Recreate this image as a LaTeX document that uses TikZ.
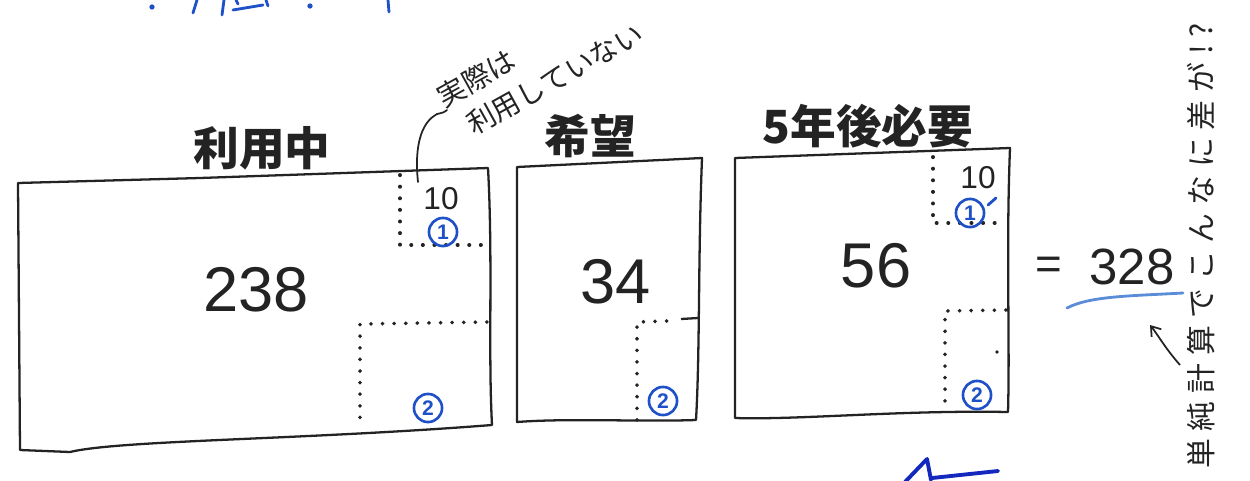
\documentclass[tikz,border=0pt]{standalone}
\usepackage{fontspec}
\setmainfont{Liberation Sans}
\newfontfamily\cjk{Noto Sans CJK JP}
\usetikzlibrary{arrows.meta}
\definecolor{pen}{RGB}{35,35,35}
\definecolor{bpen}{RGB}{30,80,200}
\definecolor{ulblue}{RGB}{90,140,215}
\definecolor{dblue}{RGB}{20,40,190}
\begin{document}
\begin{tikzpicture}[x=0.02cm,y=-0.02cm,
 edge/.style={draw=pen,line width=1.3pt,line join=round,line cap=round},
 dotline/.style={draw=pen,line width=2.2pt,line cap=round,dash pattern=on 0.1pt off 6.5pt},
 title/.style={font=\cjk\bfseries\fontsize{26}{28}\selectfont,text=pen,inner sep=0pt},
 big/.style={font=\fontsize{36}{40}\selectfont,text=pen,inner sep=0pt},
 small/.style={font=\fontsize{18}{20}\selectfont,text=pen,inner sep=0pt},
 circ/.style={circle,draw=bpen,line width=1.5pt,text=bpen,inner sep=0pt,minimum size=16pt,font=\bfseries\fontsize{12}{12}\selectfont},
 ann/.style={font=\cjk\fontsize{16}{22}\selectfont,text=pen,inner sep=0pt},
 bstroke/.style={draw=bpen,line width=1.6pt,line cap=round},
]
\useasboundingbox (0,0) rectangle (1250,480);

% partial blue heading cut off at top
\fill[bpen] (152,7) circle (1.5pt);
\draw[bstroke] (197,0) -- (193,13);
\draw[bstroke] (224,0) -- (222,15);
\draw[bstroke] (233,10) -- (263,5);
\draw[bstroke] (236,0) -- (238,4);
\draw[bstroke] (266,0) -- (268,6);
\fill[bpen] (310,6) circle (1.5pt);
\draw[bstroke] (388,0) -- (389,12);

% box 1 : 利用中
\draw[edge] (18,183) -- (200,178) -- (488,168) .. controls (493,260) and (488,350) .. (492,425)
  .. controls (300,440) and (120,440) .. (70,452) -- (20,450) -- cycle;
\node[title] (t1) at (262,148) {利用中};
\draw[dotline] (400,175) -- (400,245) -- (487,245);
\draw[dotline] (487,322) -- (360,324) -- (360,428);
\node[big] (n238) at (256,290) {238};
\node[small] (a10) at (441,199) {10};
\node[circ] (c1a) at (443,232) {1};
\node[circ] (c2a) at (428,408) {2};

% annotation
\node[ann,rotate=29,align=left,anchor=base west] (ann) at (463,142) {実際は\\\hspace*{0.45em}利用していない};
\coordinate (lead0) at (418,182);
\coordinate (lead1) at (434,116);
\coordinate (lead2) at (447,110);
\draw[draw=pen,line width=1pt,line cap=round] (lead0) .. controls (414,145) and (422,124) .. (lead1) .. controls (438,112) and (441,115) .. (lead2);

% box 2 : 希望
\draw[edge] (517,167) -- (702,158) .. controls (698,260) and (700,350) .. (696,420)
  .. controls (640,422) and (570,418) .. (517,422) -- cycle;
\node[title] (t2) at (590,136) {希望};
\draw[dotline] (637,420) -- (637,322) -- (668,321);
\draw[draw=pen,line width=1.3pt] (681,319) -- (698,318);
\node[big] (n34) at (616,282) {34};
\node[circ] (c2b) at (663,401) {2};

% box 3 : 5年後必要
\draw[edge] (735,158) -- (1010,148) .. controls (1006,250) and (1010,340) .. (1008,412)
  .. controls (900,410) and (800,420) .. (735,418) -- cycle;
\node[title] (t3) at (868,126) {5年後必要};
\draw[dotline] (933,157) -- (933,223) -- (1006,223);
\draw[dotline] (1006,310) -- (945,311) -- (945,412);
\fill[pen] (997,352) circle (1.1pt);
\node[big] (n56) at (876,266) {56};
\node[small] (b10) at (978,178) {10};
\node[circ] (c1b) at (970,213) {1};
\draw[bstroke] (988,205) -- (996,198);
\node[circ] (c2c) at (977,395) {2};

% total
\node[font=\fontsize{26}{28}\selectfont,text=pen,inner sep=0pt] (eq) at (1049,268) {=};
\node[font=\fontsize{29}{32}\selectfont,text=pen,inner sep=0pt] (tot) at (1132,267) {328};
\coordinate (ul0) at (1067,308);
\coordinate (ul1) at (1183,293);
\draw[draw=ulblue,line width=1.6pt,line cap=round] (ul0) .. controls (1090,296) and (1130,296) .. (ul1);

% side note
\node[font=\cjk\fontsize{17}{19}\selectfont\addfontfeature{LetterSpace=26},text=pen,inner sep=0pt,rotate=90] (side) at (1201,246) {単純計算でこんなに差が!?};
\coordinate (ar0) at (1180,365);
\coordinate (ar1) at (1150,325);
\draw[draw=pen,line width=1pt,-{Straight Barb[length=5pt,width=7pt]}] (ar0) .. controls (1165,348) and (1158,335) .. (ar1);

% partial blue arrow at bottom
\draw[draw=dblue,line width=2.2pt,line cap=round,line join=round] (905,482) -- (927,459) -- (931,480);
\draw[draw=dblue,line width=2.2pt,line cap=round] (932,478) -- (998,471);
\end{tikzpicture}
\end{document}
